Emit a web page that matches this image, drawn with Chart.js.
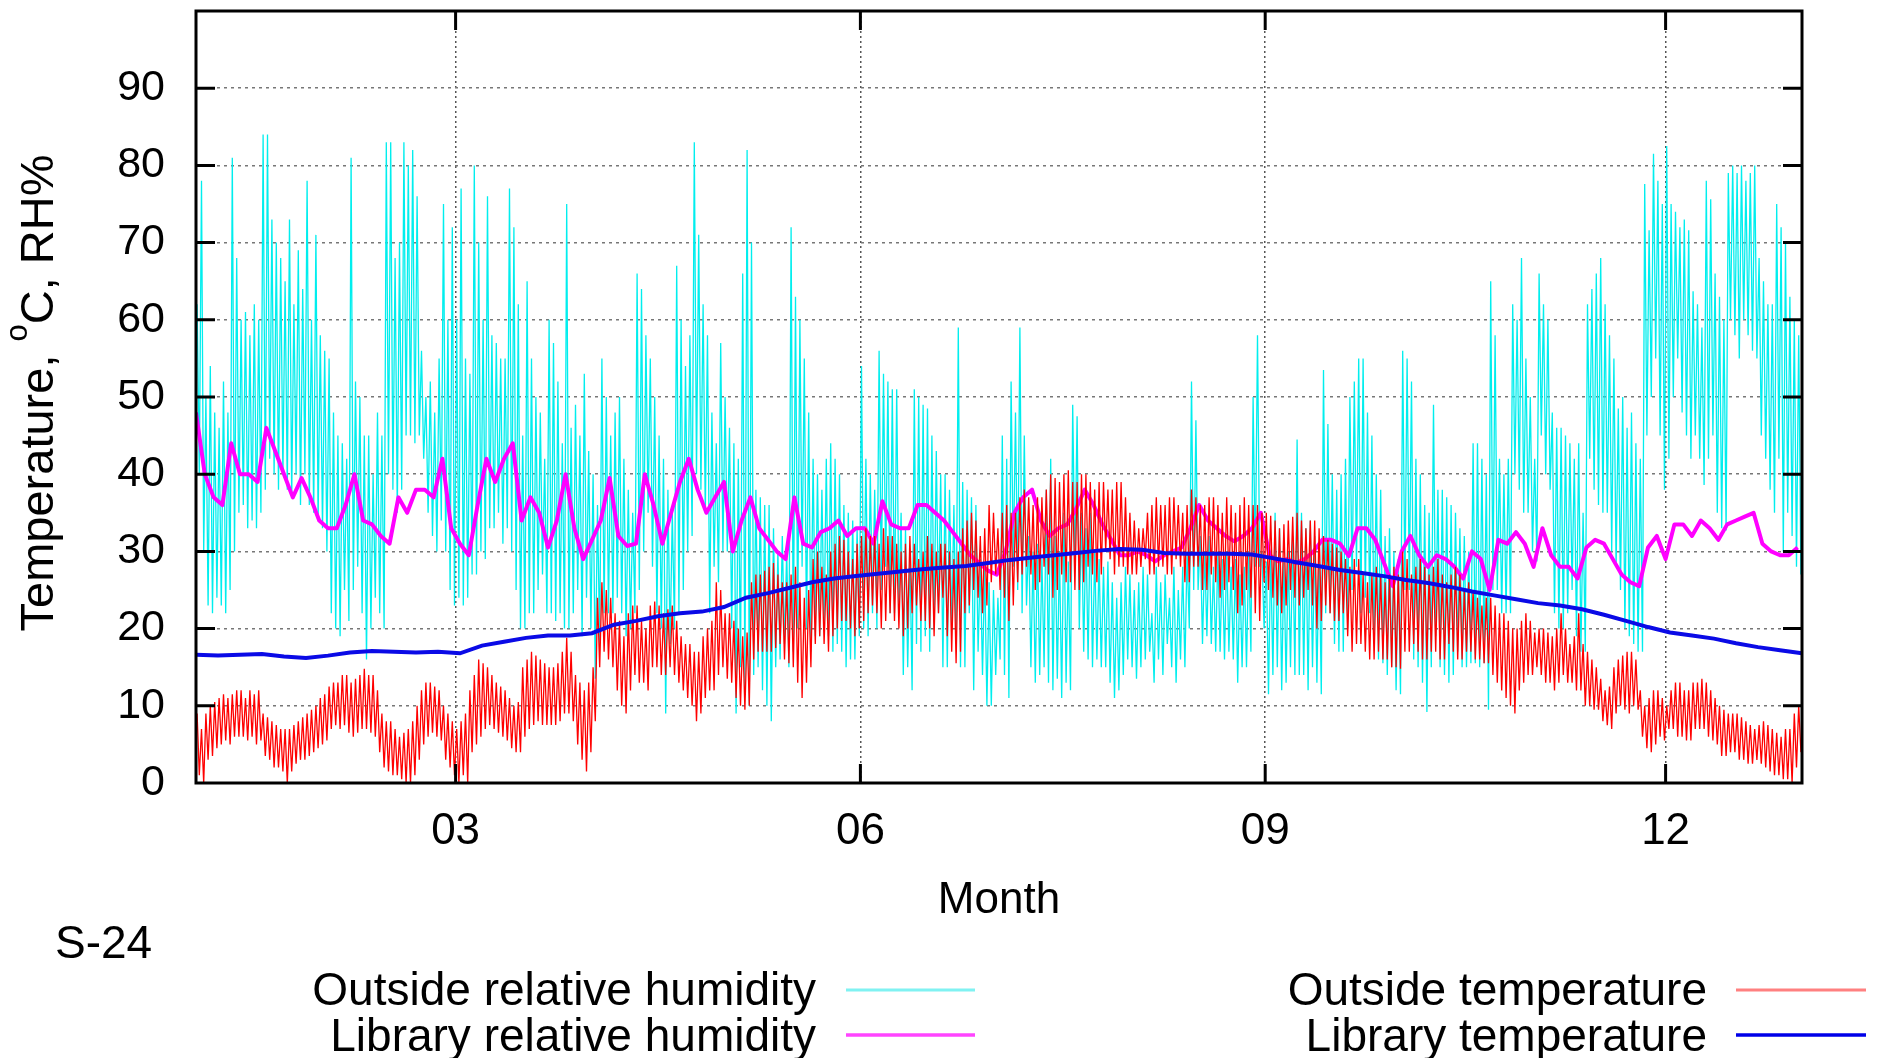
<!DOCTYPE html>
<html>
<head>
<meta charset="utf-8">
<script src="https://cdn.jsdelivr.net/npm/chart.js@4.4.0/dist/chart.umd.min.js"></script>
<style>
  html, body { margin: 0; padding: 0; background: #fff; }
  #wrap { width: 1882px; height: 1058px; }
</style>
</head>
<body>
<div id="wrap"><canvas id="myChart"></canvas></div>
<script>
// day of year -> month tick
const monthTickDays = [59, 151, 243, 334];
const monthTickLabels = ['03', '06', '09', '12'];

// outside RH, daily high and low (day 0..364)
const outsideRhHigh = [
  62, 78, 50, 54, 48, 46, 52, 48, 81, 68,
  60, 61, 58, 62, 60, 84, 84, 73, 70, 68,
  65, 73, 62, 69, 64, 78, 60, 71, 58, 56,
  55, 48, 45, 44, 42, 81, 52, 50, 45, 45,
  40, 48, 45, 83, 83, 68, 70, 83, 80, 82,
  76, 56, 50, 52, 48, 55, 75, 60, 72, 60,
  77, 55, 53, 80, 70, 60, 76, 58, 57, 55,
  55, 77, 72, 62, 45, 65, 55, 50, 48, 42,
  60, 57, 52, 44, 75, 46, 49, 45, 53, 43,
  40, 36, 55, 50, 45, 48, 50, 42, 38, 35,
  66, 64, 58, 55, 50, 45, 42, 38, 35, 67,
  60, 54, 58, 83, 71, 62, 58, 48, 44, 57,
  50, 46, 44, 42, 66, 82, 70, 38, 37, 36,
  36, 33, 30, 32, 30, 72, 63, 60, 55, 48,
  42, 40, 38, 42, 44, 42, 40, 36, 35, 34,
  33, 54, 42, 40, 38, 56, 53, 52, 51, 51,
  35, 33, 30, 51, 50, 49, 48.5, 45, 43, 40,
  40, 38, 36, 59, 39, 38, 37, 36, 29, 28,
  26, 25, 24, 45, 42, 52, 48, 59, 45, 32,
  30, 31, 29, 38, 42, 32, 30, 35, 28.7, 49,
  47.5, 35, 33, 35, 30, 29, 28, 28.7, 26, 24,
  26, 28, 27, 25, 26, 28, 27, 22, 28, 26,
  27, 24, 28, 25, 28, 30, 52, 47, 32, 30,
  32, 28, 30, 29, 30, 28, 29, 27, 28, 30,
  50, 58, 30, 28.7, 30, 35, 33, 29, 30, 32,
  44.5, 35, 33, 34, 32, 31, 53.5, 46.5, 40, 38,
  40, 42, 50, 52, 55, 55, 48, 45, 40, 38,
  32, 33, 30, 29, 56, 55, 52, 42, 40, 36,
  35, 49, 38, 38, 37, 36, 35, 33, 32, 30,
  44, 44, 42, 40, 65, 58, 42, 40, 42, 62,
  60, 68, 55, 50, 42, 66, 62, 60, 48, 46,
  46, 45, 44, 42, 44, 35, 62, 64, 66, 68,
  62, 58, 55, 48.5, 50, 46, 48, 44, 42, 77.6,
  71.6, 81.5, 78, 75, 82.5, 75, 74, 72, 73, 71.6,
  63.7, 62, 59, 78, 75.6, 66, 63, 60, 79, 80,
  79, 80, 78, 79, 80, 68, 65, 62, 62, 75,
  72, 70, 63, 60, 58
];
const outsideRhLow = [
  40, 30, 23, 22, 24, 23, 22, 25, 30, 35,
  36, 33, 34, 33, 35, 38, 42, 40, 38, 40,
  38, 37, 40, 36, 40, 36, 35, 34, 33, 30,
  22, 20, 19, 25, 21, 25, 28, 22, 16, 20,
  24, 22, 20, 40, 38, 35, 38, 45, 45, 44,
  45, 42, 35, 32, 30, 34, 30, 25, 23, 24,
  23, 24, 27, 27, 30, 29, 33, 33, 35, 31,
  33, 30, 25, 20, 20, 22, 22, 25, 27, 22,
  22, 21, 22, 20, 20, 22, 25, 19, 24, 20,
  13.5, 18, 22, 22, 22, 24, 22, 19, 20, 22,
  25, 30, 35, 28, 22, 20, 9, 18, 20, 22,
  25, 30, 32, 40, 38, 35, 22, 28, 26, 30,
  30, 20, 9, 15, 12, 10, 14, 15, 12, 10,
  8, 15, 16, 18, 15, 17, 20, 28, 20, 17,
  19, 19, 20, 19, 17, 18, 17, 15, 16, 16,
  19, 20, 19, 22, 20, 25, 28, 22, 22, 23,
  14, 15, 12, 18, 17, 19, 17, 20, 22, 15,
  15, 20, 18, 15, 15, 22, 12, 17, 14, 10,
  10, 14, 16, 14, 11, 28, 25, 22, 23, 15,
  13, 14, 15, 13, 12, 13.5, 11, 13, 12, 28,
  20, 17, 16, 15, 16, 15, 15, 13, 11, 12,
  14, 16, 15, 13.5, 15, 16, 17, 13, 16, 14,
  18, 15, 13, 16, 15, 20, 25, 25, 18, 19,
  18, 17, 17, 16, 17, 16, 13, 15, 15, 17,
  28, 28, 20, 11.5, 14, 15, 12, 13, 15, 14,
  14, 14, 12, 15, 13, 11.5, 22, 22, 18, 17,
  17, 20, 25, 28, 22, 24, 22, 18, 16, 15.5,
  14, 15, 12, 11.5, 25, 25, 16, 15, 13, 9.2,
  15, 19, 15, 14, 13, 14, 17, 15, 15, 15.5,
  15.5, 15, 15.5, 9.5, 25, 25, 22, 22, 22, 40,
  38, 35, 35, 30, 28.7, 45, 40, 38, 22, 20,
  20, 22, 25, 19, 17, 17, 42, 38, 36, 35,
  35, 30, 28, 25, 20, 19, 18, 17, 17, 45,
  50, 55, 45, 38, 42, 50, 55, 48, 45, 42,
  45, 42, 38.6, 42, 45, 35, 33, 32.7, 60, 58,
  55, 60, 58, 56, 55, 45, 42, 38, 35, 42,
  30, 35, 32, 28, 27
];

// library RH, every 2 days
const libraryRh = [
  48, 40, 37, 36, 44, 40, 40, 39, 46, 43,
  40, 37, 39.5, 37, 34, 33, 33, 36, 40, 34,
  33.5, 32, 31, 37, 35, 38, 38, 37, 42, 33,
  31, 29.5, 36, 42, 39, 42, 44, 34, 37, 35,
  30.5, 34, 40, 33, 29, 31.5, 34, 39.5, 32, 30.7,
  31, 40, 36, 31, 35, 39, 42, 38, 35, 37,
  39, 30, 34, 37, 33, 31.5, 30, 29, 37, 31,
  30.5, 32.5, 33, 34, 32, 33, 33, 31, 36.5, 33.5,
  33, 33, 36, 36, 35, 34, 32.5, 31, 29.5, 28.5,
  27.5, 27, 30, 35, 37, 38, 34, 32, 33, 33.5,
  35.5, 38, 36, 33.5, 31.5, 29.5, 29.5, 30, 29.5, 28.7,
  29.5, 30, 30.5, 33, 36, 34, 33, 32, 31.3, 32,
  33, 35, 29.5, 28.7, 29, 28.5, 29, 30, 31.5, 31.5,
  31, 29.4, 33, 33, 31.5, 28.5, 25.5, 30, 32, 29.5,
  28, 29.5, 29, 28, 26.5, 30, 29, 25, 31.5, 31,
  32.5, 31, 28, 33, 29.5, 28, 28, 26.5, 30.5, 31.5,
  31, 29, 27, 26, 25.5, 30.5, 32, 29, 33.5, 33.5,
  32, 34, 33, 31.5, 33.5, 34, 34.5, 35, 31, 30,
  29.5, 29.5, 30.5
];

// outside temperature, daily high and low (day 0..364)
const outsideTempHigh = [
  9, 7, 9, 10, 10.5, 11, 11.5, 11, 11.5, 12,
  12, 11, 12, 11.5, 12, 9, 8.5, 8, 7.5, 7,
  7, 7, 7.5, 8, 8.5, 9, 9.5, 10, 11, 11.5,
  12.5, 13, 13, 14, 14, 13, 13.5, 14, 14.8, 14,
  14, 12, 9, 8, 8, 7, 6, 6.5, 7, 8,
  10, 12, 13, 13, 12.5, 12, 10, 9, 8, 7,
  8, 9, 12, 14, 16, 15.5, 15, 14, 13, 12.5,
  12, 11, 10, 10.5, 15, 16, 17, 16.5, 16, 15.5,
  15, 15, 15.5, 17, 18.8, 17, 14, 13, 12, 13,
  15, 24, 26, 25, 24, 22, 21, 19, 22, 23,
  23, 21, 20, 23, 23.5, 23, 22, 22.5, 23, 21,
  19, 18, 18, 17, 17, 19, 20, 21, 26, 25,
  22, 22, 21, 20, 19, 19.5, 26, 27, 27, 27.5,
  28, 28.5, 27, 26, 26, 27, 28, 26, 24, 25,
  29, 30, 28, 27, 30, 31, 32, 31.5, 30, 29,
  31, 32, 33, 32, 32, 31, 33, 32, 32, 31,
  30, 31, 32, 31, 29, 30, 32, 31, 30, 31,
  31, 30, 29, 30, 33, 34, 35, 34, 32, 33,
  36, 35, 33, 35, 36, 35, 35, 37, 38, 37,
  36, 37, 37, 38, 40, 39.5, 39, 40, 40.5, 39,
  39, 40, 40, 39, 38, 39, 39, 38, 38, 39,
  39, 37, 35, 34, 33, 33, 35, 36, 37, 36,
  36, 37, 37, 36, 35, 36, 38, 37, 36, 36,
  37, 37, 36, 35, 37, 36, 35, 36, 37, 36,
  36, 36, 35, 35, 34.6, 34, 33, 33.5, 34, 34.5,
  35, 34, 33, 34, 34, 33, 32, 31.5, 31, 30.5,
  30, 29, 28, 29, 29, 27, 26, 27, 28, 27,
  26, 27, 28, 27, 30, 29, 27, 28, 29, 28,
  27, 28, 29, 27, 26, 27, 28, 27, 25, 26,
  25, 24, 23, 24, 24, 23, 22, 22, 21, 20,
  20, 21, 22, 21, 19.5, 20, 20, 19.5, 19, 20,
  22, 20, 18, 19, 22, 18, 17, 16, 15, 13.5,
  12, 12.5, 15, 16, 16.5, 17, 17, 16, 12, 10,
  11, 12, 12, 11, 10, 12, 13, 13, 12, 12,
  13, 13, 13.5, 13, 12, 11, 10, 9.5, 9, 9,
  9, 8.5, 8, 7.5, 7, 7.5, 8, 7.5, 7, 6.5,
  6, 7, 7, 9, 10
];
const outsideTempLow = [
  1, 0, 3, 3.5, 4.5, 5, 5.5, 5, 6, 6,
  6, 5.5, 6, 5, 5.5, 3.5, 3, 2, 2, 1.5,
  0, 1.5, 2.5, 3, 3, 3.5, 4, 4.5, 5, 5.5,
  7, 7.5, 7, 7.5, 6.5, 6, 6.5, 7, 7, 6.5,
  6, 4, 2, 1.5, 1, 1, 0.5, 0, 0, 1,
  3, 5, 6, 6.5, 6, 5.5, 3, 2, 1, 0,
  1, 0, 4, 5, 6, 7, 7.5, 7, 6.5, 6,
  5.5, 4.5, 4, 4, 6, 7, 7.5, 8, 7.5, 7.5,
  7.5, 7.5, 8, 9, 9, 8, 5, 3, 1.5, 4,
  8, 15, 17, 16, 15, 12, 10, 9, 12, 14,
  13, 13, 12, 15, 15, 14, 14, 15, 14, 13,
  12, 11, 10, 8, 9, 11, 12, 12, 14, 15,
  13.5, 13, 11, 10, 9.5, 10, 16, 17, 17, 17,
  17, 17.5, 18, 16, 15.5, 15, 13, 11, 13, 15,
  18, 19, 18, 17, 19, 20, 21, 21, 20, 19,
  20, 21, 22, 23, 22, 20, 21, 22, 21, 20,
  19, 20, 22, 23, 21, 21, 20, 19, 22, 24,
  19, 17, 15.5, 17, 22, 23, 25, 24, 22, 23,
  26, 27, 25, 24, 21, 23, 26, 27, 28, 27,
  25, 26, 28, 27, 24, 25, 27, 26, 26, 25,
  25, 26, 28, 27, 26, 27, 30, 29, 27, 28,
  28, 27, 27, 27, 28, 29, 27, 27, 28, 28,
  27, 27, 29, 28, 26, 26, 28, 28, 25, 25,
  27, 26, 24, 25, 26, 25, 22, 23, 25, 24,
  22, 21, 26, 25, 24, 23, 22, 23, 25, 24,
  23, 24, 25, 23, 20, 21, 23, 22, 21, 21,
  22, 19, 17, 18, 18, 17, 16, 16, 17, 16,
  16, 15, 15, 14.8, 17, 17, 18, 17, 16, 16,
  17, 17, 16, 16, 18, 17, 16, 16, 17, 17,
  16, 16, 15.5, 15.5, 14, 13, 12, 11, 10, 9,
  12, 13, 14, 14, 15, 14, 13, 13, 12, 13,
  14, 13, 13, 12, 12, 10, 10, 9.5, 9.5, 8,
  7.5, 7, 9, 10, 9.5, 9, 10, 9.5, 6, 4.5,
  4, 5, 6, 5.5, 7, 7, 6, 6, 5.5, 5.5,
  7, 7, 7, 6, 5.5, 5, 3.5, 3.5, 4, 4,
  3, 3, 2.5, 2.5, 3, 2.5, 2, 1.5, 1, 1,
  0.5, 0.5, 0, 2, 4
];

// library temperature, every 5 days
const libraryTemp = [
  16.6, 16.5, 16.6, 16.7, 16.4, 16.2, 16.5, 16.9, 17.1, 17.0,
  16.9, 17.0, 16.8, 17.8, 18.3, 18.8, 19.1, 19.1, 19.4, 20.5,
  21.0, 21.6, 22.0, 22.2, 22.8, 24.0, 24.6, 25.3, 26.0, 26.5,
  26.8, 27.1, 27.4, 27.7, 27.9, 28.1, 28.5, 28.9, 29.2, 29.5,
  29.8, 30.1, 30.3, 30.2, 29.8, 29.7, 29.7, 29.7, 29.6, 29.1,
  28.6, 28.1, 27.6, 27.2, 26.8, 26.3, 25.9, 25.4, 24.8, 24.3,
  23.8, 23.3, 23.0, 22.5, 21.8, 21.0, 20.2, 19.5, 19.1, 18.7,
  18.1, 17.6, 17.2, 16.8
];

const seriesNames = ['Outside relative humidity', 'Library relative humidity',
                     'Outside temperature', 'Library temperature'];

const toPoints = (vals, step) => vals.map((v, i) => ({ x: i * step, y: v }));

// daily high then low, one pair per day
const dailyPoints = (highs, lows) => {
  const pts = [];
  highs.forEach((h, d) => {
    pts.push({ x: d + 0.25, y: h });
    pts.push({ x: d + 0.75, y: lows[d] });
  });
  return pts;
};

const FONT = 'Liberation Sans, Arial, Helvetica, sans-serif';

const framePlugin = {
  id: 'frame',
  afterDatasetsDraw(chart) {
    const ctx = chart.ctx;
    const a = chart.chartArea;
    const ys = chart.scales.y, xs = chart.scales.x;
    ctx.save();
    ctx.strokeStyle = '#000';
    ctx.lineWidth = 3;
    ctx.beginPath();
    for (let v = 10; v <= 90; v += 10) {
      const y = ys.getPixelForValue(v);
      ctx.moveTo(a.left, y); ctx.lineTo(a.left + 19, y);
      ctx.moveTo(a.right, y); ctx.lineTo(a.right - 19, y);
    }
    monthTickDays.forEach(d => {
      const x = xs.getPixelForValue(d);
      ctx.moveTo(x, a.bottom); ctx.lineTo(x, a.bottom - 19);
      ctx.moveTo(x, a.top); ctx.lineTo(x, a.top + 19);
    });
    ctx.stroke();
    ctx.strokeRect(a.left, a.top, a.right - a.left, a.bottom - a.top);
    ctx.restore();
  },
  afterDraw(chart) {
    const ctx = chart.ctx;
    const a = chart.chartArea;
    ctx.save();
    ctx.fillStyle = '#000';
    ctx.textBaseline = 'alphabetic';

    // y title, rotated, with raised "o"
    ctx.save();
    ctx.translate(53, 393);
    ctx.rotate(-Math.PI / 2);
    const big = '47px ' + FONT, small = '31px ' + FONT;
    ctx.font = big;
    const p1 = 'Temperature, ', p3 = 'C, RH%';
    const w1 = ctx.measureText(p1).width, w3 = ctx.measureText(p3).width;
    ctx.font = small;
    const w2 = ctx.measureText('o').width;
    let x = -(w1 + w2 + w3) / 2;
    ctx.font = big; ctx.textAlign = 'left';
    ctx.fillText(p1, x, 0); x += w1;
    ctx.font = small; ctx.fillText('o', x, -26); x += w2;
    ctx.font = big; ctx.fillText(p3, x, 0);
    ctx.restore();

    // x title
    ctx.font = '44px ' + FONT;
    ctx.textAlign = 'center';
    ctx.fillText('Month', (a.left + a.right) / 2, 913);

    // tag
    ctx.textAlign = 'left';
    ctx.font = '46px ' + FONT;
    ctx.fillText('S-24', 55, 958);

    // legend
    const cols = [
      { textRight: 816, x0: 846, x1: 975 },
      { textRight: 1707, x0: 1736, x1: 1866 }
    ];
    const rows = [{ base: 1005, line: 990 }, { base: 1051, line: 1035 }];
    const keyColors = ['#80f2f2', '#ff44ff', '#ff8080', '#0000e8'];
    const keyWidths = [3, 3.5, 3, 3.5];
    ctx.font = '46px ' + FONT;
    ctx.textAlign = 'right';
    [[0, 0], [0, 1], [1, 0], [1, 1]].forEach(([c, r], i) => {
      const col = cols[c], row = rows[r];
      ctx.fillStyle = '#000';
      ctx.fillText(seriesNames[i], col.textRight, row.base);
      ctx.strokeStyle = keyColors[i];
      ctx.lineWidth = keyWidths[i];
      ctx.beginPath();
      ctx.moveTo(col.x0, row.line); ctx.lineTo(col.x1, row.line);
      ctx.stroke();
    });
    ctx.restore();
  }
};

const ctx = document.getElementById('myChart').getContext('2d');
const myChart = new Chart(ctx, {
  type: 'line',
  data: {
    datasets: [
      { label: seriesNames[0], data: dailyPoints(outsideRhHigh, outsideRhLow), borderColor: 'rgb(0,238,238)', borderWidth: 1.3, order: 4 },
      { label: seriesNames[1], data: toPoints(libraryRh, 2), borderColor: '#ff00ff', borderWidth: 4, borderJoinStyle: 'round', order: 3 },
      { label: seriesNames[2], data: dailyPoints(outsideTempHigh, outsideTempLow), borderColor: '#ff0000', borderWidth: 1.3, order: 2 },
      { label: seriesNames[3], data: toPoints(libraryTemp, 5), borderColor: '#0a0ae6', borderWidth: 4, order: 1 }
    ]
  },
  options: {
    animation: false,
    responsive: true,
    maintainAspectRatio: false,
    layout: { padding: { top: 11, right: 80, left: 0, bottom: 0 } },
    elements: { point: { radius: 0 }, line: { tension: 0, fill: false } },
    plugins: { legend: { display: false }, tooltip: { enabled: false } },
    scales: {
      x: {
        type: 'linear',
        min: 0,
        max: 365,
        afterBuildTicks: s => { s.ticks = monthTickDays.map(v => ({ value: v })); },
        afterFit: s => { s.height = 275; s.paddingLeft = 0; s.paddingRight = 0; },
        grid: { color: '#555', lineWidth: 1.5, drawTicks: false },
        border: { display: false, dash: [2, 3] },
        ticks: {
          callback: (v, i) => monthTickLabels[i],
          padding: 22,
          autoSkip: false,
          maxRotation: 0,
          color: '#000',
          font: { family: FONT, size: 44 }
        }
      },
      y: {
        min: 0,
        max: 100,
        afterFit: s => { s.width = 196; s.paddingTop = 0; s.paddingBottom = 0; },
        grid: { color: '#777', lineWidth: 1.5, drawTicks: false },
        border: { display: false, dash: [3, 4] },
        ticks: {
          stepSize: 10,
          padding: 31,
          color: '#000',
          callback: v => (v === 100 ? '' : v),
          font: { family: FONT, size: 43 }
        }
      }
    }
  },
  plugins: [framePlugin]
});
</script>
</body>
</html>
